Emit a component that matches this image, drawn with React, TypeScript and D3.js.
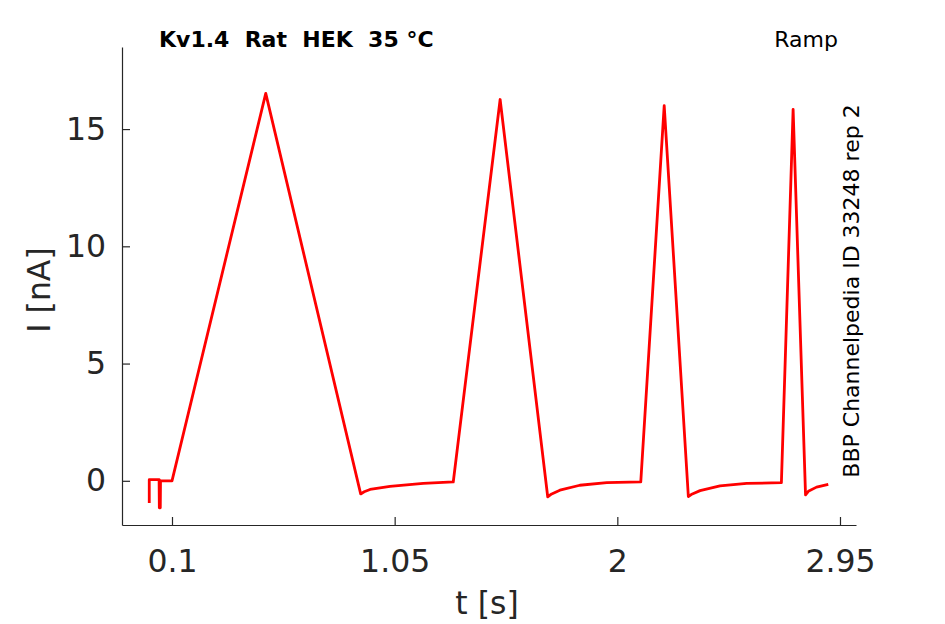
import { useRef, useEffect } from "react";
import * as d3 from "d3";

// sweep samples: time [s] and current [nA]
const sweepT: number[] = [
    0.003, 0.003, 0.045, 0.046, 0.05, 0.051, 0.1,
    0.5, 0.905, 0.92, 0.945, 1.03, 1.172, 1.3,
    1.5, 1.703, 1.72, 1.755, 1.84, 1.955, 2.1,
    2.2, 2.303, 2.32, 2.353, 2.438, 2.552, 2.7,
    2.75, 2.803, 2.815, 2.85, 2.9,
];
const sweepI: number[] = [
    -0.95, 0.05, 0.05, -1.15, -1.15, 0.0, 0.0,
    16.52, -0.56, -0.47, -0.37, -0.24, -0.11, -0.05,
    16.26, -0.68, -0.56, -0.4, -0.19, -0.08, -0.05,
    16.0, -0.67, -0.56, -0.42, -0.22, -0.11, -0.08,
    15.84, -0.6, -0.45, -0.27, -0.15,
];

const xTicks: number[] = [0.1, 1.05, 2, 2.95];
const xTickLabels: string[] = ["0.1", "1.05", "2", "2.95"];
const yTicks: number[] = [0, 5, 10, 15];

const title = "Kv1.4\u00a0\u00a0Rat\u00a0\u00a0HEK\u00a0\u00a035 °C";
const protocol = "Ramp";
const sideNote = "BBP Channelpedia ID 33248 rep 2";

const App: React.FC = () => {
    const svgRef = useRef<SVGSVGElement | null>(null);

    useEffect(() => {
        document.body.style.margin = "0";
        if (!svgRef.current) return;

        const width = 945;
        const height = 624;
        const ink = "#262626";
        const font = "'DejaVu Sans', sans-serif";

        const x = d3.scaleLinear().domain([-0.1133, 3.0183]).range([122, 856]);
        const y = d3.scaleLinear().domain([-1.885, 18.5]).range([525, 47]);

        const svg = d3.select(svgRef.current);
        svg.selectAll("*").remove();
        svg.attr("width", width).attr("height", height);

        svg.append("rect")
            .attr("width", width)
            .attr("height", height)
            .attr("fill", "#fff");

        const xAxis = svg
            .append("g")
            .attr("transform", `translate(0,${y.range()[0]})`)
            .call(
                d3
                    .axisBottom(x)
                    .tickValues(xTicks)
                    .tickFormat((_d, i) => xTickLabels[i])
                    .tickSizeInner(-8)
                    .tickSizeOuter(0)
                    .tickPadding(25),
            );

        const yAxis = svg
            .append("g")
            .attr("transform", `translate(${x.range()[0]},0)`)
            .call(
                d3
                    .axisLeft(y)
                    .tickValues(yTicks)
                    .tickFormat(d3.format("d"))
                    .tickSizeInner(-8)
                    .tickSizeOuter(0)
                    .tickPadding(16),
            );

        [xAxis, yAxis].forEach((g) => {
            g.select(".domain").attr("stroke", ink).attr("stroke-width", 1.2);
            g.selectAll(".tick line").attr("stroke", ink).attr("stroke-width", 1.2);
            g.selectAll(".tick text")
                .attr("fill", ink)
                .attr("font-family", font)
                .attr("font-size", 31.5);
        });

        const line = d3
            .line<number>()
            .x((_d, i) => x(sweepT[i]))
            .y((d) => y(d));

        svg.append("path")
            .datum(sweepI)
            .attr("fill", "none")
            .attr("stroke", "#ff0000")
            .attr("stroke-width", 2.8)
            .attr("stroke-linejoin", "round")
            .attr("d", line);

        svg.append("text")
            .attr("x", 159)
            .attr("y", 47)
            .attr("font-family", font)
            .attr("font-size", 22)
            .attr("font-weight", "bold")
            .attr("fill", "#000")
            .text(title);

        svg.append("text")
            .attr("x", 838)
            .attr("y", 47)
            .attr("text-anchor", "end")
            .attr("font-family", font)
            .attr("font-size", 22)
            .attr("fill", "#000")
            .text(protocol);

        svg.append("text")
            .attr("transform", "translate(859,291) rotate(-90)")
            .attr("text-anchor", "middle")
            .attr("font-family", font)
            .attr("font-size", 22)
            .attr("fill", "#000")
            .text(sideNote);

        svg.append("text")
            .attr("x", 487)
            .attr("y", 614)
            .attr("text-anchor", "middle")
            .attr("font-family", font)
            .attr("font-size", 31.5)
            .attr("fill", ink)
            .text("t [s]");

        svg.append("text")
            .attr("transform", "translate(50,290) rotate(-90)")
            .attr("text-anchor", "middle")
            .attr("font-family", font)
            .attr("font-size", 31.5)
            .attr("fill", ink)
            .text("I [nA]");
    }, []);

    return <svg ref={svgRef} style={{ display: "block" }} />;
};

export default App;
